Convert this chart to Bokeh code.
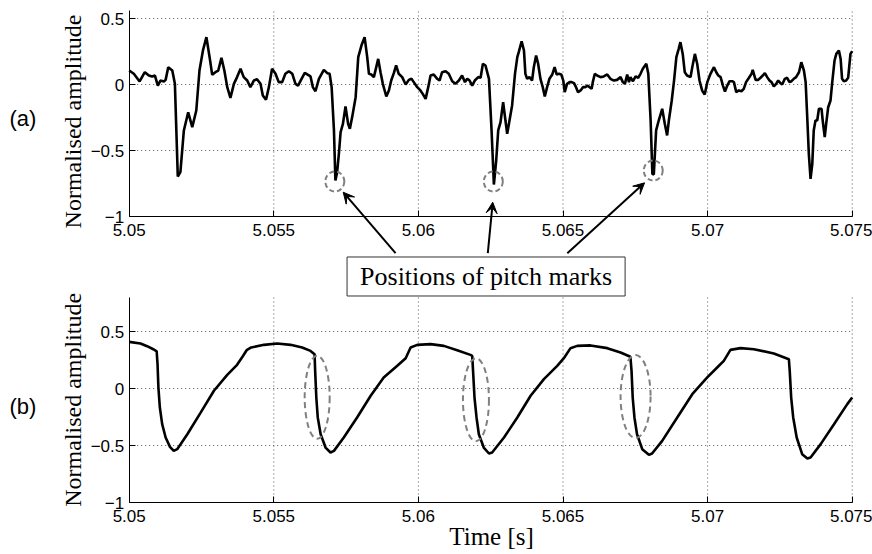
import numpy as np
from bokeh.plotting import figure
from bokeh.models import (FixedTicker, Label, Arrow, VeeHead, ColumnDataSource, Range1d,
                          LinearAxis)
from bokeh.embed import file_html
from bokeh.resources import INLINE

T0 = 5.05  # start of the excerpt [s]

# (a) speech waveform: time offset from T0 [ms] and normalised amplitude
speech_ms = [
    0.00, 0.16, 0.36, 0.54, 0.68, 0.79, 0.89, 0.99, 1.08, 1.20, 1.26, 1.35, 1.49, 1.58,
    1.68, 1.77, 1.89, 2.04, 2.18, 2.32, 2.43, 2.55, 2.67, 2.78, 2.87, 2.98, 3.08, 3.19,
    3.29, 3.39, 3.50, 3.62, 3.73, 3.85, 3.96, 4.08, 4.19, 4.31, 4.42, 4.54, 4.62, 4.73,
    4.83, 4.94, 5.06, 5.17, 5.29, 5.40, 5.52, 5.64, 5.75, 5.84, 5.96, 6.07,
    6.27, 6.35, 6.44, 6.56, 6.73, 6.85, 6.93, 7.00, 7.08, 7.13, 7.19, 7.25, 7.31, 7.39,
    7.48, 7.57, 7.63, 7.71, 7.83, 7.92, 8.03, 8.14, 8.23, 8.29, 8.37, 8.46, 8.52, 8.61,
    8.69, 8.77, 8.89, 8.98, 9.06, 9.15, 9.23, 9.32, 9.44, 9.56, 9.67, 9.76, 9.84, 9.96,
    10.07, 10.15, 10.25, 10.34, 10.42, 10.53, 10.65, 10.73, 10.82, 10.94, 11.05, 11.17,
    11.28, 11.40, 11.51, 11.61, 11.69, 11.77, 11.86, 11.95, 12.07, 12.15, 12.23,
    12.32, 12.44, 12.53, 12.61, 12.69, 12.76, 12.84, 12.93, 13.01, 13.07, 13.15, 13.24,
    13.34, 13.42, 13.47, 13.57, 13.65, 13.70, 13.76, 13.84, 13.93, 13.99, 14.07, 14.14,
    14.22, 14.30, 14.37, 14.45, 14.53, 14.63, 14.71, 14.78, 14.86, 14.94, 15.01, 15.06,
    15.14, 15.23, 15.30, 15.38, 15.45, 15.52, 15.61, 15.69, 15.78, 15.84, 15.92, 15.99,
    16.03, 16.10, 16.18, 16.30, 16.41, 16.53, 16.64, 16.76, 16.87, 16.99, 17.07, 17.14,
    17.22, 17.28, 17.33, 17.42, 17.51, 17.60, 17.68, 17.76, 17.88, 17.95, 18.03, 18.09,
    18.14, 18.22, 18.31, 18.43, 18.52, 18.60,
    18.66, 18.76, 18.84, 18.92, 19.00, 19.06, 19.14, 19.21, 19.29, 19.41, 19.47, 19.56,
    19.64, 19.72, 19.81, 19.90, 19.99, 20.10, 20.22, 20.30, 20.37, 20.45, 20.53, 20.60,
    20.68, 20.76, 20.85, 20.91, 20.99, 21.08, 21.17, 21.25, 21.33, 21.43, 21.52, 21.56,
    21.66, 21.75, 21.83, 21.91, 21.98, 22.06, 22.14, 22.21, 22.29, 22.37, 22.44, 22.52,
    22.58, 22.67, 22.75, 22.83, 22.90, 22.98, 23.06, 23.16, 23.24, 23.33, 23.39, 23.44,
    23.50, 23.56, 23.62, 23.67, 23.73, 23.79, 23.85, 23.94, 23.98, 24.05, 24.10, 24.17,
    24.25, 24.31, 24.39, 24.45, 24.54, 24.60, 24.65, 24.71, 24.79, 24.86, 24.94, 25.00,
]
speech_amp = [
    0.106, 0.081, 0.023, 0.093, 0.068, 0.061, 0.068, -0.008, 0.030, 0.023, 0.035, 0.131, 0.106, 0.005,
    -0.697, -0.664, -0.348, -0.210, -0.323, -0.197, 0.106, 0.258, 0.359, 0.207, 0.073, 0.093, 0.106, 0.202,
    0.106, -0.020, -0.101, 0.005, 0.056, 0.119, 0.056, 0.030, -0.020, 0.030, 0.040, 0.005, -0.083, -0.116,
    -0.020, 0.119, 0.081, 0.018, 0.018, 0.081, 0.101, 0.081, 0.005, -0.008, 0.043, 0.088,
    0.061, -0.020, -0.051, 0.043, 0.111, 0.086, 0.081, -0.020, -0.348, -0.727, -0.664, -0.525, -0.361, -0.298,
    -0.167, -0.298, -0.336, -0.247, -0.096, 0.207, 0.295, 0.359, 0.207, 0.081, 0.076, 0.056, 0.111, 0.194,
    0.093, 0.005, -0.091, -0.045, 0.030, 0.086, 0.144, 0.081, 0.056, 0.000, 0.035, 0.043, 0.018, -0.020,
    -0.045, -0.071, -0.109, -0.020, 0.068, 0.076, 0.043, 0.030, 0.093, 0.101, 0.081, 0.025,
    0.005, 0.030, 0.068, 0.018, 0.043, 0.030, -0.008, 0.030, 0.056, 0.051, 0.157,
    0.144, 0.043, -0.348, -0.758, -0.576, -0.348, -0.285, -0.134, -0.273, -0.374, -0.273, -0.159,
    0.081, 0.207, 0.245, 0.328, 0.258, 0.081, 0.043, 0.056, 0.030, 0.131, 0.220, 0.157,
    0.043, -0.020, -0.091, -0.020, 0.043, 0.076, 0.131, 0.076, 0.081, 0.076, 0.030, -0.058,
    0.005, 0.018, 0.018, 0.010, -0.020, -0.058, -0.045, -0.020, -0.020, -0.008, -0.020, -0.033,
    0.018, 0.081, 0.068, 0.056, 0.061, 0.076, 0.043, 0.030, 0.035, 0.056, 0.018, 0.005,
    0.076, 0.018, 0.056, 0.025, 0.061, 0.051, 0.081, 0.119, 0.157, 0.081, -0.273, -0.677,
    -0.682, -0.348, -0.273, -0.184, -0.298, -0.386,
    -0.273, -0.121, 0.030, 0.207, 0.270, 0.321, 0.232, 0.093, 0.068, 0.056, 0.131, 0.232,
    0.157, 0.030, -0.045, -0.076, 0.018, 0.081, 0.131, 0.093, 0.068, 0.056, -0.008, -0.053,
    -0.008, 0.025, 0.025, 0.018, -0.058, -0.045, -0.051, -0.033, 0.018, 0.051, 0.081, 0.111,
    0.035, 0.035, 0.051, 0.068, 0.086, 0.056, 0.030, 0.018, -0.015, 0.005, 0.030, 0.010,
    0.000, 0.043, 0.051, 0.018, 0.025, 0.043, 0.056, 0.093, 0.169, 0.106, 0.018, -0.222,
    -0.525, -0.715, -0.601, -0.348, -0.273, -0.273, -0.184, -0.184, -0.273, -0.399, -0.298, -0.172,
    -0.121, 0.018, 0.182, 0.232, 0.258, 0.194, 0.043, 0.025, 0.030, 0.051, 0.232, 0.253,
]

# (b) glottal waveform: time offset from T0 [ms] and normalised amplitude
glottal_ms = [
    0.00, 0.39, 0.62, 0.85, 0.95, 0.98, 1.01, 1.06, 1.14, 1.26, 1.41, 1.54, 1.66, 2.01,
    2.47, 2.93, 3.39, 3.73, 3.94, 4.06, 4.22, 4.66, 5.12, 5.58, 5.98, 6.27, 6.41, 6.43,
    6.47, 6.52, 6.62, 6.79, 6.96, 7.08, 7.42, 7.88, 8.35, 8.80, 9.27, 9.56, 9.73, 9.96,
    10.42, 10.88, 11.34, 11.80, 11.86, 11.89, 11.94, 12.01, 12.09, 12.26, 12.44, 12.55,
    12.96, 13.42, 13.88, 14.34, 14.80, 15.03, 15.26, 15.49, 15.95, 16.53, 16.99, 17.33,
    17.37, 17.41, 17.47, 17.56, 17.74, 17.97, 18.08, 18.43, 18.95, 19.47, 19.98, 20.33,
    20.56, 20.79, 21.14, 21.60, 22.29, 22.81, 22.84, 22.89, 22.96, 23.08, 23.27, 23.45,
    23.56, 23.91, 24.37, 24.83, 25.00,
]
glottal_amp = [
    0.409, 0.395, 0.371, 0.342, 0.325, 0.213, 0.009, -0.167, -0.313, -0.430, -0.512, -0.547, -0.532, -0.401,
    -0.211, -0.020, 0.120, 0.208, 0.287, 0.336, 0.360, 0.383, 0.395, 0.383, 0.360, 0.330, 0.301, 0.155,
    -0.079, -0.254, -0.401, -0.518, -0.561, -0.547, -0.430, -0.254, -0.064, 0.096, 0.199, 0.266, 0.360, 0.383,
    0.389, 0.374, 0.336, 0.295, 0.287, 0.155, -0.079, -0.254, -0.401, -0.518, -0.570, -0.561,
    -0.430, -0.254, -0.064, 0.082, 0.199, 0.266, 0.354, 0.374, 0.378, 0.354, 0.316, 0.278,
    0.155, -0.079, -0.254, -0.401, -0.532, -0.582, -0.570, -0.459, -0.254, -0.050, 0.096, 0.184,
    0.243, 0.339, 0.354, 0.345, 0.307, 0.257, 0.155, -0.079, -0.254, -0.430, -0.576, -0.614,
    -0.605, -0.488, -0.313, -0.137, -0.079,
]

# pitch marks circled in each panel: time offset [ms], amplitude
marks_a_ms = [7.11, 12.59, 18.12]
marks_a_amp = [-0.735, -0.735, -0.652]
marks_b_ms = [6.50, 11.99, 17.51]
marks_b_amp = [-0.077, -0.099, -0.071]

# arrows from the caption box to the marks in (a): tail / head (time offset [ms], amplitude)
arrow_tail_ms = [9.21, 12.40, 15.15]
arrow_tail_amp = [-1.278, -1.278, -1.278]
arrow_head_ms = [7.40, 12.57, 17.82]
arrow_head_amp = [-0.816, -0.892, -0.745]

x_ticks = [5.05, 5.055, 5.06, 5.065, 5.07, 5.075]
x_tick_labels = ["5.05", "5.055", "5.06", "5.065", "5.07", "5.075"]
y_ticks = [-1.0, -0.5, 0.0, 0.5]
y_tick_labels = ["\u22121", "\u22120.5", "0", "0.5"]
ylim_a = (-1.0, 0.56)
ylim_b = (-1.0, 0.8)
xlim = (5.05, 5.075)

SANS = "Liberation Sans"
SERIF = "Liberation Serif"


def to_time(ms):
    return T0 + np.asarray(ms) / 1000.0


# One canvas holds both panels; each panel has its own y scale and its own
# axes pinned at fixed locations, so the annotations between the panels
# can be drawn freely.
p = figure(width=872, height=554, output_backend="svg", toolbar_location=None,
           x_axis_type=None, y_axis_type=None,
           x_range=Range1d(5.0455498, 5.0757019),
           y_range=Range1d(-3.5606, 0.6364),
           min_border=0)
p.extra_y_ranges = {"b": Range1d(-1.4561, 3.4035)}
p.outline_line_color = None
p.background_fill_color = "white"
p.border_fill_color = "white"
p.xgrid.visible = False
p.ygrid.visible = False


def add_axes(range_name, ylim):
    common = dict(axis_line_color="black", axis_line_width=1,
                  major_tick_in=6, major_tick_out=0,
                  major_tick_line_color="black", minor_tick_line_color=None,
                  major_label_text_font=SANS, major_label_text_font_size="17px",
                  major_label_text_color="black")
    xa = LinearAxis(y_range_name=range_name, fixed_location=ylim[0], bounds=xlim,
                    ticker=FixedTicker(ticks=x_ticks),
                    major_label_overrides=dict(zip(x_ticks, x_tick_labels)),
                    major_label_standoff=7, **common)
    ya = LinearAxis(y_range_name=range_name, fixed_location=xlim[0], bounds=ylim,
                    ticker=FixedTicker(ticks=y_ticks),
                    major_label_overrides=dict(zip(y_ticks, y_tick_labels)),
                    major_label_standoff=5, **common)
    p.add_layout(xa, "below")
    p.add_layout(ya, "left")
    # dotted grid at the tick positions, limited to the panel's own box
    gx = [t for t in x_ticks if t != xlim[0]]
    gy = [t for t in y_ticks if t != ylim[0]]
    p.segment(x0=gx, y0=[ylim[0]] * len(gx), x1=gx, y1=[ylim[1]] * len(gx),
              y_range_name=range_name, line_color="#555555", line_width=1,
              line_dash="1 3")
    p.segment(x0=[xlim[0]] * len(gy), y0=gy, x1=[xlim[1]] * len(gy), y1=gy,
              y_range_name=range_name, line_color="#555555", line_width=1,
              line_dash="1 3")


add_axes("default", ylim_a)
add_axes("b", ylim_b)

# ---- panel (a): speech signal ----
p.line(to_time(speech_ms), speech_amp, line_color="black", line_width=2.6)
p.ellipse(to_time(marks_a_ms), marks_a_amp, width=19, height=20,
          width_units="screen", height_units="screen",
          fill_color=None, line_color="#808080", line_width=2, line_dash="5 3")

arrow_src = ColumnDataSource(dict(
    x0=to_time(arrow_tail_ms), y0=arrow_tail_amp,
    x1=to_time(arrow_head_ms), y1=arrow_head_amp))
p.add_layout(Arrow(end=VeeHead(size=11, fill_color="black", line_color="black"),
                   x_start="x0", y_start="y0", x_end="x1", y_end="y1",
                   source=arrow_src, line_color="black", line_width=2))

p.add_layout(Label(x=to_time([12.34])[0], y=-1.4545, text="Positions of pitch marks",
                   text_align="center", text_baseline="middle",
                   text_font=SERIF, text_font_size="26px", text_color="black",
                   border_line_color="#333333", border_line_width=1,
                   background_fill_color="white",
                   padding=dict(left=13, right=13, top=5, bottom=5)))

# panel captions and axis titles
p.add_layout(Label(x=to_time([-4.14])[0], y=-0.258, text="(a)",
                   text_align="left", text_baseline="middle",
                   text_font=SANS, text_font_size="22px", text_color="black"))
p.add_layout(Label(x=to_time([-1.96])[0], y=-0.280, text="Normalised amplitude",
                   angle=np.pi / 2, text_align="center", text_baseline="middle",
                   text_font=SERIF, text_font_size="24px", text_color="black"))

# ---- panel (b): glottal waveform ----
p.line(to_time(glottal_ms), glottal_amp, y_range_name="b", line_color="black", line_width=2.6)
p.ellipse(to_time(marks_b_ms), marks_b_amp, y_range_name="b", width=[25, 26, 30], height=83,
          width_units="screen", height_units="screen",
          fill_color=None, line_color="#808080", line_width=2, line_dash="6 4")
p.add_layout(Label(x=to_time([-4.14])[0], y=-0.160, y_range_name="b", text="(b)",
                   text_align="left", text_baseline="middle",
                   text_font=SANS, text_font_size="22px", text_color="black"))
p.add_layout(Label(x=to_time([-1.96])[0], y=-0.099, y_range_name="b",
                   text="Normalised amplitude",
                   angle=np.pi / 2, text_align="center", text_baseline="middle",
                   text_font=SERIF, text_font_size="24px", text_color="black"))
p.add_layout(Label(x=to_time([12.53])[0], y=-1.300, y_range_name="b", text="Time [s]",
                   text_align="center", text_baseline="middle",
                   text_font=SERIF, text_font_size="25px", text_color="black"))

open("out.html", "w").write(file_html(p, INLINE))
